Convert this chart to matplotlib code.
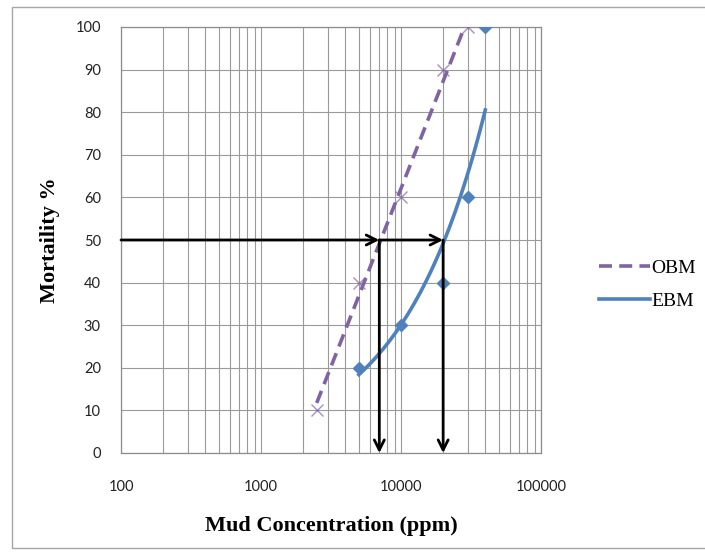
import numpy as np
import matplotlib
matplotlib.use('Agg')
import matplotlib.pyplot as plt
from matplotlib.patches import Rectangle

# data
obm_conc = [2500, 5000, 10000, 20000, 30000]
obm_mort = [10, 40, 60, 90, 100]
ebm_conc = [5000, 10000, 20000, 30000, 40000]
ebm_mort = [20, 30, 40, 60, 100]
lc50_conc = [7000, 20000]   # arrows at 50 % mortality
lc50_level = 50

purple = '#8064A2'
blue = '#4F81BD'

fig = plt.figure(figsize=(7.05, 5.55), dpi=100)
ax = fig.add_axes([121/705, 1-453/555, 420/705, 426/555])

# outer chart border
fig.patches.append(Rectangle((12/705, 7/555), 1.0, 541/555, transform=fig.transFigure,
                             fill=False, edgecolor='#a6a6a6', lw=1.0))

# trendlines as in the spreadsheet: logarithmic for OBM, power for EBM
b1, a1 = np.polyfit(np.log(obm_conc), obm_mort, 1)
xo = np.logspace(np.log10(obm_conc[0]), np.log10(obm_conc[-1]), 100)
ax.plot(xo, a1 + b1*np.log(xo), color=purple, lw=2.6, dashes=(3.6, 2.0), label='OBM', zorder=3)
b2, a2 = np.polyfit(np.log(ebm_conc), np.log(ebm_mort), 1)
xe = np.logspace(np.log10(ebm_conc[0]), np.log10(ebm_conc[-1]), 100)
ax.plot(xe, np.exp(a2)*xe**b2, color=blue, lw=2.6, label='EBM', zorder=3)

ax.plot(obm_conc, obm_mort, 'x', color=purple, ms=9, mew=1.0, alpha=0.7, zorder=4)
ax.plot(ebm_conc, ebm_mort, 'D', color=blue, ms=6.5, zorder=4)

# arrows
arr = dict(arrowstyle='->', color='black', lw=2.0, mutation_scale=18, shrinkA=0, shrinkB=0)
ax.annotate('', xy=(lc50_conc[0], lc50_level), xytext=(100, lc50_level), arrowprops=arr, zorder=5)
ax.annotate('', xy=(lc50_conc[1], lc50_level), xytext=(lc50_conc[0], lc50_level), arrowprops=arr, zorder=5)
for c in lc50_conc:
    ax.annotate('', xy=(c, 0), xytext=(c, lc50_level), arrowprops=arr, zorder=5)

ax.set_xscale('log')
ax.set_xlim(100, 100000)
ax.set_ylim(0, 100)
ax.set_yticks(range(0, 101, 10))
ax.set_xticks([100, 1000, 10000, 100000])
ax.set_xticklabels(['100', '1000', '10000', '100000'])
ax.grid(True, which='major', color='#9a9a9a', lw=0.8)
ax.grid(True, which='minor', axis='x', color='#9a9a9a', lw=0.8)
ax.tick_params(which='both', length=0, labelsize=10.5, colors='#222222')
ax.tick_params(axis='y', pad=14.5)
ax.tick_params(axis='x', pad=19.5)
for lab in ax.get_xticklabels() + ax.get_yticklabels():
    lab.set_family('Lato')
for s in ax.spines.values():
    s.set_color('#8c8c8c')
    s.set_linewidth(0.9)

ax.set_xlabel('Mud Concentration (ppm)', family='Liberation Serif', fontweight='bold',
              fontsize=16, labelpad=16)
ax.set_ylabel('Mortaility %', family='Liberation Serif', fontweight='bold',
              fontsize=16, labelpad=11)

leg = ax.legend(loc='center left', bbox_to_anchor=(1.097, 0.395), frameon=False,
                prop={'family': 'Liberation Serif', 'size': 14}, handlelength=2.6,
                handletextpad=0.1, labelspacing=0.78)

fig.savefig('out.png', dpi=100)
